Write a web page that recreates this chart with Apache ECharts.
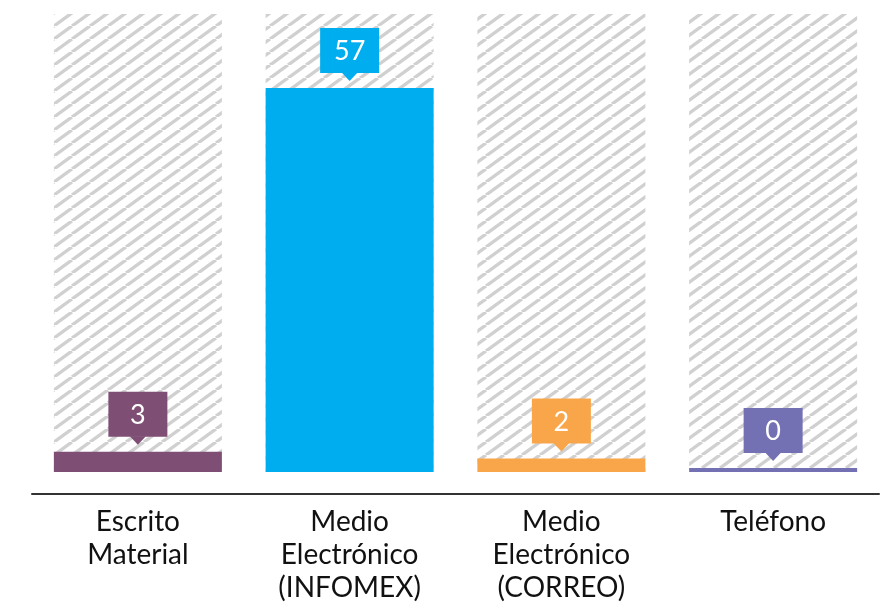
<!DOCTYPE html>
<html>
<head>
<meta charset="utf-8">
<script src="https://cdn.jsdelivr.net/npm/echarts@6/dist/echarts.min.js"></script>
<style>
html,body{margin:0;padding:0;background:#fff;}
#chart{width:882px;height:604px;}
</style>
</head>
<body>
<div id="chart"></div>
<script>
const categories = ['Escrito Material', 'Medio Electrónico (INFOMEX)', 'Medio Electrónico (CORREO)', 'Teléfono'];
const values = [3, 57, 2, 0];
const colors = ['#7E4E74', '#00AEEF', '#F9A64A', '#7470B4'];
const scaleMax = 68;

// hatch pattern
const TW = 18, TH = 13;
const tile = document.createElement('canvas');
tile.width = TW; tile.height = TH;
const tc = tile.getContext('2d');
tc.fillStyle = '#ffffff';
tc.fillRect(0, 0, TW, TH);
tc.strokeStyle = '#d0d0d0';
tc.lineWidth = 3.4;
[-TW, 0, TW].forEach(function (dx) {
  tc.beginPath();
  tc.moveTo(dx, TH);
  tc.lineTo(dx + TW, 0);
  tc.stroke();
});

const chart = echarts.init(document.getElementById('chart'), null, {renderer: 'canvas'});

const font = 'Lato, "Noto Sans", sans-serif';

chart.setOption({
  animation: false,
  grid: {left: 32, right: 3, top: 14, bottom: 127, containLabel: false},
  xAxis: {
    type: 'category',
    data: categories,
    offset: 22,
    axisLine: {onZero: false, lineStyle: {color: '#333', width: 2}},
    axisTick: {show: false},
    axisLabel: {
      interval: 0,
      margin: 11,
      color: '#111',
      fontSize: 28,
      lineHeight: 33,
      fontFamily: font,
      formatter: function (v) { return v.replace(/ /g, '\n'); }
    }
  },
  yAxis: {
    type: 'value',
    min: 0,
    max: scaleMax,
    show: false,
    splitLine: {show: false}
  },
  series: [
    {
      type: 'bar',
      silent: true,
      barWidth: 168,
      barGap: '-100%',
      z: 1,
      data: categories.map(function () { return scaleMax; }),
      itemStyle: {color: {image: tile, repeat: 'repeat'}}
    },
    {
      type: 'bar',
      barWidth: 168,
      barGap: '-100%',
      barMinHeight: 4,
      z: 2,
      data: values.map(function (v, i) { return {value: v, itemStyle: {color: colors[i]}}; })
    },
    {
      type: 'custom',
      z: 3,
      clip: false,
      data: values.map(function (v, i) { return [i, v]; }),
      encode: {x: 0, y: 1},
      renderItem: function (params, api) {
        const i = api.value(0);
        const v = api.value(1);
        const pt = api.coord([i, v]);
        const base = api.coord([i, 0]);
        const barTop = Math.min(pt[1], base[1] - 4);
        const cx = pt[0];
        const tip = barTop - 7;
        const boxBottom = tip - 8;
        const w = 59, h = 45;
        const c = colors[i];
        return {
          type: 'group',
          children: [
            {type: 'rect', shape: {x: cx - w / 2, y: boxBottom - h, width: w, height: h}, style: {fill: c}},
            {type: 'polygon', shape: {points: [[cx - 8, boxBottom - 0.5], [cx + 8, boxBottom - 0.5], [cx, tip]]}, style: {fill: c}},
            {type: 'text', x: cx, y: boxBottom - h / 2 + 1, style: {text: String(v), fill: '#fff', fontSize: 27, fontFamily: font, align: 'center', verticalAlign: 'middle'}}
          ]
        };
      }
    }
  ]
});
</script>
</body>
</html>
